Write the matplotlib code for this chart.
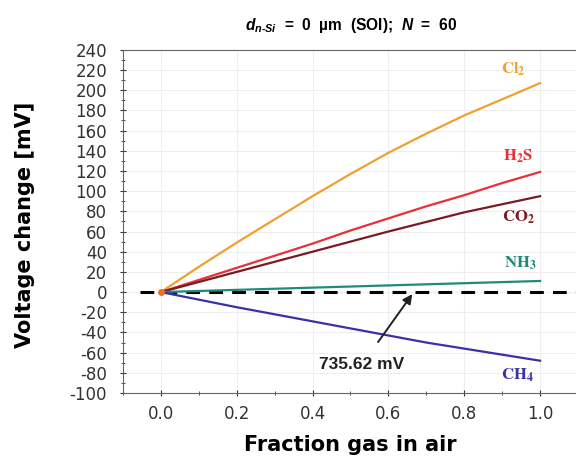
import matplotlib
matplotlib.use('Agg')
import matplotlib.pyplot as plt
from matplotlib.ticker import MultipleLocator

plt.rcParams['axes.unicode_minus'] = False
plt.rcParams['mathtext.fontset'] = 'custom'
plt.rcParams['mathtext.rm'] = 'Liberation Sans:bold'
plt.rcParams['mathtext.it'] = 'Liberation Sans:bold:italic'
plt.rcParams['mathtext.bf'] = 'Liberation Sans:bold'

# data
fraction = [0.0, 0.1, 0.2, 0.3, 0.4, 0.5, 0.6, 0.7, 0.8, 0.9, 1.0]
cl2 = [0, 25, 49, 72, 95, 117, 138, 157, 175, 191, 207]
h2s = [0, 12, 24, 36, 48, 61, 73, 85, 96, 108, 119]
co2 = [0, 10, 20, 30, 40, 50, 60, 69.5, 79, 87, 95]
nh3 = [0, 1.1, 2.2, 3.3, 4.4, 5.5, 6.6, 7.7, 8.8, 9.9, 11]
ch4 = [0, -7.5, -15, -22, -29, -36, -43, -50, -56, -62, -68]

gases = [r'$\mathbf{Cl_2}$', r'$\mathbf{H_2S}$', r'$\mathbf{CO_2}$', r'$\mathbf{NH_3}$', r'$\mathbf{CH_4}$']
series = [cl2, h2s, co2, nh3, ch4]
colors = ['#f0a030', '#e8303a', '#7a1a22', '#208a7a', '#3a30a8']
label_pos = [(0.93, 221), (0.942, 135), (0.942, 74), (0.947, 29), (0.94, -82)]

fig = plt.figure(figsize=(5.76, 4.57), dpi=100)
ax = fig.add_axes([0.2135, 0.14, 0.79, 0.751])

# reference level (735.62 mV)
ax.plot([-0.055, 1.12], [0, 0], color='black', lw=2.2, ls=(0, (4.5, 3)), zorder=2, clip_on=False)
for y, c in zip(series, colors):
    ax.plot(fraction, y, color=c, lw=1.6, zorder=3)
ax.plot([0], [0], 'o', color='#f07020', ms=4, zorder=4)

for g, c, (px, py) in zip(gases, colors, label_pos):
    ax.text(px, py, g, color=c, fontsize=12, math_fontfamily='stix',
            ha='center', va='center')

ax.annotate('735.62 mV', xy=(0.663, -2), xytext=(0.53, -72),
            fontsize=12.5, fontweight='bold', family='Liberation Sans', ha='center', va='center',
            color='#222222',
            arrowprops=dict(arrowstyle='-|>', color='#222222', lw=1.4, mutation_scale=14,
                            shrinkA=11, shrinkB=0))

ax.set_xlim(-0.1, 1.1)
ax.set_ylim(-100, 240)
ax.xaxis.set_major_locator(MultipleLocator(0.2))
ax.xaxis.set_minor_locator(MultipleLocator(0.1))
ax.yaxis.set_major_locator(MultipleLocator(20))
ax.yaxis.set_minor_locator(MultipleLocator(10))
ax.tick_params(which='both', direction='inout', labelsize=12, colors='#333333')
ax.tick_params(which='major', length=5)
ax.tick_params(which='minor', length=3)
ax.tick_params(axis='x', pad=6)
ax.tick_params(axis='y', pad=9)
ax.set_xticks([0.0, 0.2, 0.4, 0.6, 0.8, 1.0])
ax.set_xticklabels(['0.0', '0.2', '0.4', '0.6', '0.8', '1.0'])
ax.grid(True, which='major', color='#eeeeee', lw=0.8)
ax.spines['right'].set_visible(False)
for s in ['left', 'bottom', 'top']:
    ax.spines[s].set_color('#666666')

ax.set_xlabel('Fraction gas in air', fontsize=15, fontweight='bold', labelpad=9)
ax.set_ylabel('Voltage change [mV]', fontsize=15, fontweight='bold')
ax.yaxis.set_label_coords(-0.193, 0.49)

fig.text(0.609, 0.945, r'$d_{n\text{-}Si}$  =  0  µm  (SOI);  $N$  =  60',
         ha='center', va='center', fontsize=11.2, fontweight='bold', family='Liberation Sans')

fig.savefig('out.png', dpi=100)
